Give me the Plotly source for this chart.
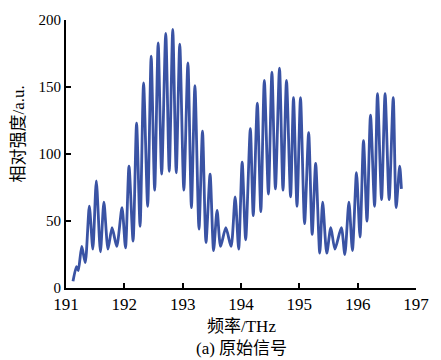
import plotly.graph_objects as go

# Frequency (THz) and relative intensity (a.u.) read at the turning points of the trace
freq = [191.12, 191.18, 191.21, 191.27, 191.33, 191.40, 191.46, 191.52, 191.59, 191.65,
        191.72, 191.79, 191.87, 191.96, 192.02, 192.08, 192.15, 192.21, 192.27, 192.33,
        192.40, 192.46, 192.52, 192.58, 192.64, 192.71, 192.77, 192.83, 192.89, 192.95,
        193.02, 193.09, 193.15, 193.21, 193.28, 193.34, 193.40, 193.47, 193.53, 193.59,
        193.65, 193.74, 193.83, 193.90, 193.96, 194.02, 194.08, 194.16, 194.21, 194.28,
        194.34, 194.40, 194.47, 194.53, 194.59, 194.66, 194.72, 194.78, 194.85, 194.90,
        194.96, 195.02, 195.09, 195.16, 195.22, 195.28, 195.35, 195.40, 195.47, 195.54,
        195.61, 195.72, 195.78, 195.85, 195.91, 195.98, 196.04, 196.10, 196.16, 196.22,
        196.29, 196.34, 196.41, 196.47, 196.54, 196.61, 196.66, 196.72, 196.75]
intensity = [5, 16, 13, 31, 19, 61, 29, 80, 27, 64,
             29, 45, 31, 60, 30, 91, 35, 123, 46, 153,
             61, 173, 73, 183, 85, 190, 87, 193, 86, 182,
             73, 168, 60, 151, 44, 117, 34, 85, 28, 58,
             31, 45, 31, 68, 29, 94, 36, 119, 54, 138,
             57, 155, 70, 161, 74, 164, 73, 155, 68, 142,
             61, 142, 48, 116, 40, 93, 26, 64, 26, 45,
             29, 45, 25, 64, 28, 86, 38, 110, 50, 129,
             61, 145, 66, 145, 66, 142, 60, 91, 74]

x_ticks = [191, 192, 193, 194, 195, 196, 197]
y_ticks = [0, 50, 100, 150, 200]

x_title = "频率/THz"
y_title = "相对强度/a.u."
caption = "(a) 原始信号"

FONT = "Liberation Serif, Times New Roman, Noto Sans CJK SC, serif"

fig = go.Figure(go.Scatter(
    x=freq, y=intensity, mode="lines",
    line=dict(color="#3a53a4", width=2.8, shape="spline", smoothing=0.7),
    hoverinfo="skip",
))

axis_common = dict(
    showline=True, linecolor="black", linewidth=2,
    ticks="inside", ticklen=5, tickwidth=2, tickcolor="black",
    showgrid=False, zeroline=False, mirror=False,
)

fig.update_layout(
    width=441, height=360,
    margin=dict(l=66, r=14, t=20, b=72),
    paper_bgcolor="white", plot_bgcolor="white",
    showlegend=False,
    font=dict(family=FONT, color="black"),
    xaxis=dict(range=[191, 197], tickvals=x_ticks, ticktext=[str(v) for v in x_ticks],
               tickfont=dict(size=17, family=FONT), **axis_common),
    yaxis=dict(range=[0, 200], tickvals=y_ticks, ticktext=[str(v) for v in y_ticks],
               tickfont=dict(size=15, family=FONT), **axis_common),
    annotations=[
        dict(text=x_title, xref="paper", yref="paper", x=0.5, y=-0.1455,
             showarrow=False, xanchor="center", yanchor="middle",
             font=dict(size=17, family=FONT)),
        dict(text=caption, xref="paper", yref="paper", x=0.5, y=-0.2276,
             showarrow=False, xanchor="center", yanchor="middle",
             font=dict(size=17, family=FONT)),
        dict(text=y_title, xref="paper", yref="paper", x=-0.1357, y=0.575,
             showarrow=False, xanchor="center", yanchor="middle", textangle=-90,
             font=dict(size=17, family=FONT)),
    ],
)

fig.write_html("out.html")
